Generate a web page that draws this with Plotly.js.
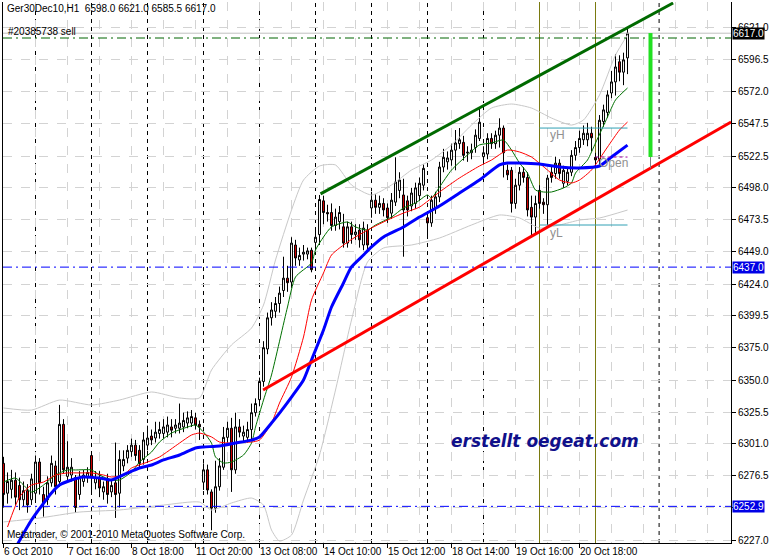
<!DOCTYPE html>
<html>
<head>
<meta charset="utf-8">
<script src="https://cdn.plot.ly/plotly-3.0.1.min.js"></script>
<style>html,body{margin:0;padding:0;background:#fff;}#chart{width:769px;height:560px;}</style>
</head>
<body>
<div id="chart"></div>
<script>
// ---- Candles (H1 bars, index 0 = 6 Oct 14:00) ----
const openP = [6286,6263,6266,6273,6269,6258,6265,6258,6263,6287,6262,6258,6271,6284,6272,6316,6276,6277,6275,6262,6272,6275,6292,6271,6275,6264,6274,6264,6271,6263,6284,6290,6295,6300,6296,6289,6300,6307,6305.5,6309,6309,6310,6314,6313,6313,6314,6317,6317,6321,6316,6271.5,6281,6264,6251.5,6268,6283,6306,6313,6281,6314,6307,6306,6312,6325,6335,6349,6374,6398,6403,6409,6419,6428.5,6425.5,6454,6442.5,6447,6447,6450,6456,6462,6488,6479,6479,6469,6472,6468,6455.5,6468,6462,6465.5,6454,6465.5,6482.5,6488.5,6483,6486,6482.5,6478.5,6487,6496,6492.5,6488,6484,6486,6492,6500,6475,6471,6482.5,6491,6514,6518,6519.5,6527,6532,6533,6525.5,6525,6529,6536,6522,6524,6536,6532,6538.5,6544,6511.5,6511.5,6486,6500,6510,6506,6483,6475.5,6496,6487,6485,6510,6509,6517,6501.5,6503,6510,6523,6529,6535,6535,6540,6521.5,6520,6549,6556,6571,6579.5,6595,6587,6598];
const highP = [6291,6279,6281,6279,6275,6272,6270,6278,6292,6290,6268,6276,6292,6288,6331,6320,6303,6290,6277,6280,6281,6283,6295,6280,6280,6272,6278,6274,6302,6296,6296,6300,6305,6304,6300,6310,6315,6312,6318,6318,6320,6322,6320,6320,6332,6325,6326,6327,6325,6319,6286,6285,6266,6288,6290,6314,6318,6321,6325,6320,6315,6318,6332,6336,6352,6380,6402,6410,6414,6422,6445,6438,6460,6458,6452,6454,6452,6452,6465,6492.5,6492,6485,6486,6482,6484,6478,6472,6472,6470,6470,6472,6470,6495,6493,6492,6490,6486,6494,6521.5,6510,6505,6492,6498,6502,6506,6516,6480,6492,6495,6518,6528,6526,6532,6542.5,6544,6538,6530,6532,6543,6559.5,6530,6540,6540,6542,6551.5,6546,6516,6514,6505,6514,6514,6510,6492,6492,6500,6490,6508,6514,6522,6520,6515,6514,6527,6534,6542,6546,6548,6545,6525,6554,6562,6573,6588,6601,6600,6602,6621];
const lowP = [6252,6255,6259,6254,6250,6253,6248,6254,6258,6262,6245,6254,6268,6262,6268,6278,6272,6272,6248,6258,6268,6271,6262,6266,6260,6258,6255,6260,6244,6252,6280,6286,6291,6288,6282,6285,6296,6300,6302,6305,6305,6306,6306,6309,6309,6310,6313,6314,6312,6304,6265.5,6262,6234.5,6248,6265,6281,6302,6264,6278,6306,6303,6302,6304,6322,6330,6345,6370,6392,6398,6402,6414,6418,6421,6438,6438,6442,6443,6433,6450,6454,6470,6472,6465,6465,6466,6452,6452,6455,6458,6452,6450,6450,6475,6478,6478,6476,6471,6474,6484,6490,6445,6476,6480,6482,6488,6496,6460,6468,6478,6487,6510,6512,6515,6511.5,6528,6519,6518,6520,6525,6534,6516,6520,6528,6528,6529,6506,6504,6479,6482,6496,6502,6476,6460,6462,6482,6478,6469.5,6502,6505,6505,6498,6500,6507,6519,6525,6531,6530,6526,6515,6516,6545,6552,6567,6569,6580,6577,6585.5];
const closeP = [6262,6272,6273,6260,6258,6265,6254,6274,6287,6271,6255,6271,6286,6268,6316,6281,6283,6283,6252,6275,6277,6279,6275,6275,6267,6268,6262,6269,6262,6289,6289,6296,6300,6292,6286,6304,6305.5,6304,6310,6312,6314,6315.5,6311.5,6315.5,6317,6319,6321,6322,6315.5,6314,6281,6265.5,6251.5,6268,6284,6306,6313,6281,6314,6310,6310,6312,6325,6332,6349,6375,6398,6404,6409,6417,6428.5,6425,6455.5,6444,6446,6448.5,6449.5,6435,6460,6489,6479,6478,6469,6475.5,6479,6455.5,6468,6462,6464,6458,6467,6454,6488.5,6483,6486,6481,6475,6488.5,6502.5,6504,6481,6481,6494,6498,6501.5,6513,6471,6488.5,6491,6514,6521.5,6521,6527,6532.5,6535,6523,6525,6527,6538.5,6548.5,6525,6536,6532,6538.5,6544,6525,6508,6486,6500,6510,6506,6481,6475.5,6486,6486,6485,6505.5,6506,6517,6509,6511.5,6510,6523,6529,6536,6540,6540,6536.5,6519.5,6550,6558,6569.5,6579.5,6591,6587,6596.5,6617];

// ---- Indicator lines (bar index, price) ----
const blueMaX = [3,7,12,14,17,20,24,27,31,34,37,40,44,48,50,54,58,62,64,67,69,72,75,77,80,82,85,87,90,92,95,100,104,109,114,119,124,126,129,134,139,144,149,152,156];
const blueMaY = [6221,6242.4,6263.2,6269.3,6273.2,6275.5,6274.7,6273.2,6278.6,6282.4,6284.7,6288.6,6292.4,6297.8,6298.6,6299.3,6301.6,6303.9,6306.3,6317,6324.7,6337,6350.1,6365.5,6388.6,6406.3,6424.8,6437.1,6446.3,6452.5,6460.2,6467.9,6475.5,6484,6494,6504,6515.6,6517.1,6517.1,6516.3,6514,6513.3,6514.8,6521.7,6530.9];
const redMaX = [1,4,7,10,13,16,19,22,25,27,30,32,36,39,44,47,49,52,54,57,59,62,64,67,69,72,75,77,80,82,85,88,92,96,100,104,109,114,119,122,126,129,132,136,139,142,144,147,151,154,156];
const redMaY = [6237,6260.1,6269.3,6271.6,6277,6278.6,6278.6,6278.6,6277,6275.5,6277,6282.4,6287,6290.9,6301.6,6307.8,6309.3,6306.3,6302.4,6301.6,6302.4,6302.4,6303.9,6317,6332.4,6352.4,6383.2,6411.7,6432.5,6446.3,6454,6460.2,6467.1,6473.2,6478.6,6483.2,6494.8,6505.6,6514.8,6519.4,6527.1,6525.6,6521.7,6511.7,6504,6501.7,6504,6511.7,6529.4,6542.5,6548.6];
const greenMaX = [0,3,5,7,10,13,16,18,22,24,27,29,32,34,37,39,42,46,48,50,52,53,55,57,60,62,63,65,67,71,73,77,78,80,82,86,88,91,93,97,100,103,106,107,109,112,116,119,122,125,127,129,131,133,135,137,140,142,143,146,148,151,153,156];
const greenMaY = [6271.6,6274.7,6269.3,6263.9,6269.3,6277,6280.9,6280.9,6280.9,6277,6273.2,6273.2,6279.3,6287,6294.7,6302.4,6309.3,6313.9,6315.5,6310.1,6301.6,6290.9,6286.3,6287,6292.4,6301.6,6313.9,6334.7,6354,6406.3,6429.4,6440.2,6450.2,6460.2,6467.9,6471.7,6467.9,6465.5,6469.4,6475.5,6482.5,6486.3,6492.5,6490.2,6498.6,6511.7,6523.3,6531,6532.5,6534.8,6527.1,6517.1,6509.4,6496.3,6494.8,6494.8,6497.9,6501.7,6509.4,6519.4,6532.5,6552.5,6565.6,6574.8];
const bandUpX = [0,7,14,22,29,37,44,49,52,57,62,65,68,72,75,79,83,87,92,97,102,107,112,117,122,127,132,137,142,145,149,153,156];
const bandUpY = [6328.6,6327,6334.7,6330.9,6334.7,6340.9,6336.3,6336.3,6357.8,6377.1,6390.1,6407.8,6442.5,6480.9,6504,6514.8,6515.6,6500.2,6492.5,6500.2,6511.7,6519.4,6531,6546.3,6559.4,6562.5,6559.4,6551.7,6546.3,6550.2,6569.4,6600.2,6615.6];
const bandLoX = [0,9,19,29,40,49,52,57,62,65,67,69,72,75,79,83,87,91,95,102,109,117,124,129,134,139,144,149,156];
const bandLoY = [6240.9,6243.9,6248.5,6250.1,6253.9,6256.2,6250.1,6255.5,6259.3,6253.9,6234.7,6226.2,6230.8,6257.8,6292.4,6342.4,6396.3,6440.9,6451.7,6454,6459.4,6469.4,6477.1,6474.8,6467.1,6469.4,6473.2,6474.8,6480.9];

// ---- Axis labels ----
const priceTicks = [6227.0,6252.0,6276.5,6301.0,6325.5,6350.0,6375.0,6399.5,6424.0,6449.0,6473.5,6498.0,6522.5,6547.5,6572.0,6596.5,6621.0];
const hiddenPriceTicks = [6252.0];
const timeTickBars = [0,16,32,48,64,80,96,112,128,144];
const timeTickLabels = ["6 Oct 2010","7 Oct 16:00","8 Oct 18:00","11 Oct 20:00","13 Oct 08:00","14 Oct 10:00","15 Oct 12:00","18 Oct 14:00","19 Oct 16:00","20 Oct 18:00"];
const daySeparatorBars = [8,22,36,50,64,78,92,106,120,134,148];

// ---- Chart objects ----
const bidPrice = 6617.0;
const sellOrderPrice = 6613.3;
const blueLevels = [6437.0, 6252.9];
const upperChannel = {x: [79.25, 167.4], y: [6493.3, 6640.2]};
const lowerChannel = {x: [64.9, 181.9], y: [6342.4, 6548.7]};
const yHigh = 6544.0, yLow = 6469.4, dayOpen = 6521.7;
const levelBars = [134, 156];
const openBars = [148, 156];
const olivelineBars = [134, 148];
const targetBar = {x: 161.75, y: [6521.7, 6617.1]};
const markerLineBar = 163.9;

const bars = openP.map((_, i) => i);
const FONT = "Liberation Sans, Arial, sans-serif";

const traces = [
  {type:'scatter', mode:'lines', x: bandUpX, y: bandUpY, line:{color:'#c8c8c8', width:1, shape:'spline', smoothing:0.6}, hoverinfo:'skip'},
  {type:'scatter', mode:'lines', x: bandLoX, y: bandLoY, line:{color:'#c8c8c8', width:1, shape:'spline', smoothing:0.6}, hoverinfo:'skip'},
  {type:'candlestick', x: bars, open: openP, high: highP, low: lowP, close: closeP,
   increasing:{line:{color:'#000000', width:1}, fillcolor:'#ffffff'},
   decreasing:{line:{color:'#000000', width:1}, fillcolor:'#d80000'},
   whiskerwidth:0, hoverinfo:'skip'},
  {type:'scatter', mode:'lines', x: greenMaX, y: greenMaY, line:{color:'#007000', width:1, shape:'spline', smoothing:0.6}, hoverinfo:'skip'},
  {type:'scatter', mode:'lines', x: redMaX, y: redMaY, line:{color:'#ff0000', width:1, shape:'spline', smoothing:0.6}, hoverinfo:'skip'},
  {type:'scatter', mode:'lines', x: blueMaX, y: blueMaY, line:{color:'#0000ff', width:3, shape:'spline', smoothing:0.6}, hoverinfo:'skip'}
];

const shapes = [];
daySeparatorBars.forEach(b => shapes.push({type:'line', xref:'x', yref:'paper', x0:b, x1:b, y0:0, y1:1, line:{color:'#000', width:1, dash:'4px,4px'}, layer:'below'}));
olivelineBars.forEach(b => shapes.push({type:'line', xref:'x', yref:'paper', x0:b, x1:b, y0:0, y1:1, line:{color:'#7a7a10', width:1}, layer:'below'}));
shapes.push({type:'line', xref:'x', yref:'paper', x0:markerLineBar, x1:markerLineBar, y0:0, y1:1, line:{color:'#000', width:1, dash:'4px,4px'}, layer:'below'});
shapes.push({type:'line', xref:'paper', yref:'y', x0:0, x1:1, y0:bidPrice, y1:bidPrice, line:{color:'#c0c0c0', width:1}});
shapes.push({type:'line', xref:'paper', yref:'y', x0:0, x1:1, y0:sellOrderPrice, y1:sellOrderPrice, line:{color:'#006400', width:1, dash:'9px,4px,2px,4px'}});
blueLevels.forEach(v => shapes.push({type:'line', xref:'paper', yref:'y', x0:0, x1:1, y0:v, y1:v, line:{color:'#0000ff', width:1, dash:'9px,4px,2px,4px'}}));
shapes.push({type:'line', x0:levelBars[0], x1:levelBars[1], y0:yHigh, y1:yHigh, line:{color:'#30a0b4', width:1}});
shapes.push({type:'line', x0:levelBars[0], x1:levelBars[1], y0:yLow, y1:yLow, line:{color:'#30a0b4', width:1}});
shapes.push({type:'line', x0:openBars[0], x1:openBars[1], y0:dayOpen, y1:dayOpen, line:{color:'#a000a0', width:1, dash:'3px,3px'}});
shapes.push({type:'line', x0:upperChannel.x[0], x1:upperChannel.x[1], y0:upperChannel.y[0], y1:upperChannel.y[1], line:{color:'#006a00', width:3}});
shapes.push({type:'line', x0:lowerChannel.x[0], x1:lowerChannel.x[1], y0:lowerChannel.y[0], y1:lowerChannel.y[1], line:{color:'#ff0000', width:3}});
shapes.push({type:'line', x0:targetBar.x, x1:targetBar.x, y0:targetBar.y[0], y1:6513.0, line:{color:'#808080', width:1}});
shapes.push({type:'line', x0:targetBar.x, x1:targetBar.x, y0:targetBar.y[0], y1:targetBar.y[1], line:{color:'#22e022', width:4}});

const annotations = [];
timeTickBars.forEach((b, k) => annotations.push({xref:'x', yref:'paper', x:b, y:0, xanchor:'left', yanchor:'top', yshift:-1, xshift:-2, text:timeTickLabels[k], showarrow:false, font:{family:FONT, size:10, color:'#000'}}));
annotations.push({xref:'paper', yref:'paper', x:0, y:1, xanchor:'left', yanchor:'top', xshift:2, yshift:1, text:'Ger30Dec10,H1\u00a0\u00a06598.0 6621.0 6585.5 6617.0', showarrow:false, font:{family:FONT, size:10, color:'#000'}});
annotations.push({xref:'paper', yref:'y', x:0, y:sellOrderPrice, xanchor:'left', yanchor:'bottom', xshift:3, yshift:-1, text:'#20385738 sell', showarrow:false, font:{family:FONT, size:10, color:'#000'}});
annotations.push({xref:'paper', yref:'paper', x:0, y:0, xanchor:'left', yanchor:'bottom', xshift:2, yshift:1, text:'Metatrader, \u00a9 2001-2010 MetaQuotes Software Corp.', showarrow:false, font:{family:FONT, size:10, color:'#000'}});
annotations.push({xref:'x', yref:'y', x:111.4, y:6303.5, xanchor:'left', yanchor:'middle', text:'<b><i>erstellt oegeat.com</i></b>', showarrow:false, font:{family:'DejaVu Sans, Verdana, sans-serif', size:17, color:'#10108a'}});
annotations.push({xref:'x', yref:'y', x:136.2, y:6538.6, xanchor:'left', yanchor:'middle', text:'yH', showarrow:false, font:{family:FONT, size:12, color:'#909090'}});
annotations.push({xref:'x', yref:'y', x:136.2, y:6463.2, xanchor:'left', yanchor:'middle', text:'yL', showarrow:false, font:{family:FONT, size:12, color:'#909090'}});
annotations.push({xref:'x', yref:'y', x:148.4, y:6516.8, xanchor:'left', yanchor:'middle', text:'Open', showarrow:false, font:{family:FONT, size:12, color:'#909090'}});
[[bidPrice,'#000000','6617.0'],[blueLevels[0],'#0000e6','6437.0'],[blueLevels[1],'#0000e6','6252.9']].forEach(([v,c,t]) =>
  annotations.push({xref:'paper', yref:'y', x:1, y:v, xanchor:'left', yanchor:'middle', xshift:1, text:t, showarrow:false, bgcolor:c, borderpad:0, font:{family:FONT, size:10, color:'#ffffff'}}));

const layout = {
  width:769, height:560,
  margin:{l:3, r:38, t:2, b:17, pad:0},
  paper_bgcolor:'#ffffff', plot_bgcolor:'#ffffff',
  showlegend:false,
  xaxis:{type:'linear', range:[-0.125, 181.875], automargin:false, fixedrange:true,
    rangeslider:{visible:false},
    tickmode:'array', tickvals:timeTickBars, showticklabels:false,
    ticks:'outside', ticklen:4, tickcolor:'#000',
    showgrid:true, gridcolor:'#d3d3d3', griddash:'dash', gridwidth:1,
    minor:{dtick:8, tick0:0, showgrid:true, gridcolor:'#d3d3d3', griddash:'dash', ticks:''},
    showline:true, linecolor:'#000', linewidth:1, zeroline:false},
  yaxis:{side:'right', range:[6224.7, 6641.0], automargin:false, fixedrange:true,
    tickmode:'array', tickvals:priceTicks,
    ticktext:priceTicks.map(v => hiddenPriceTicks.includes(v) ? '' : v.toFixed(1)),
    ticks:'outside', ticklen:4, tickcolor:'#000',
    tickfont:{family:FONT, size:10, color:'#000'},
    showgrid:true, gridcolor:'#d3d3d3', griddash:'dash', gridwidth:1,
    showline:true, linecolor:'#000', linewidth:1, mirror:true, zeroline:false},
  shapes:shapes,
  annotations:annotations
};

Plotly.newPlot('chart', traces, layout, {displayModeBar:false, staticPlot:true});
</script>
</body>
</html>
